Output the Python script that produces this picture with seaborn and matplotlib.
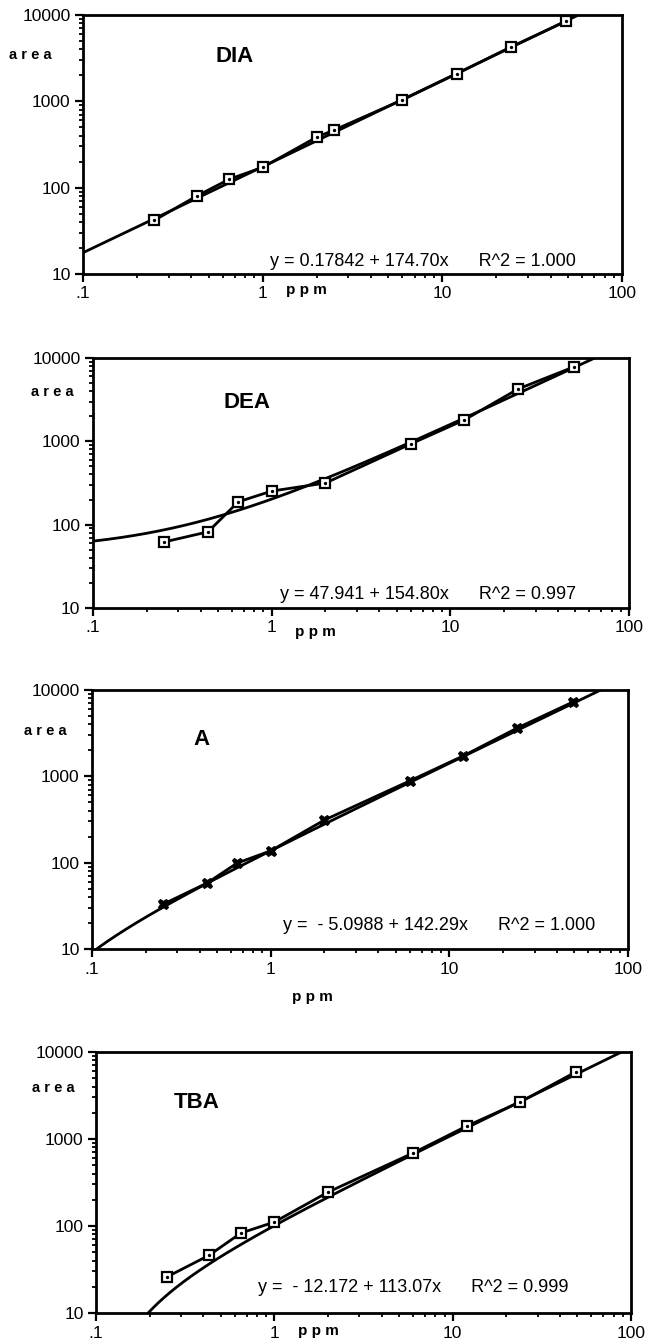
import numpy as np
import pandas as pd
import matplotlib
matplotlib.use("Agg")
import matplotlib.pyplot as plt
import seaborn as sns

sns.set_style("ticks")
plt.rcParams['font.family'] = ['Liberation Sans', 'DejaVu Sans']
plt.rcParams['text.color'] = 'black'
plt.rcParams['xtick.color'] = 'black'
plt.rcParams['ytick.color'] = 'black'

# ---- data ----
names = ["DIA", "DEA", "A", "TBA"]

dia_x = [0.25, 0.43, 0.65, 1.0, 2.0, 2.5, 6.0, 12.0, 24.0, 49.0]
dia_y = [42, 80, 125, 172, 385, 465, 1040, 2080, 4250, 8500]

dea_x = [0.25, 0.44, 0.65, 1.0, 2.0, 6.0, 12.0, 24.0, 49.0]
dea_y = [62, 82, 188, 253, 316, 930, 1810, 4260, 7800]

a_x = [0.25, 0.44, 0.65, 1.0, 2.0, 6.0, 12.0, 24.0, 49.0]
a_y = [33, 58, 99, 137, 312, 885, 1730, 3630, 7240]

tba_x = [0.25, 0.43, 0.65, 1.0, 2.0, 6.0, 12.0, 24.0, 49.0]
tba_y = [26, 46, 83, 111, 245, 690, 1410, 2670, 5890]

intercepts = [0.17842, 47.941, -5.0988, -12.172]
slopes = [174.70, 154.80, 142.29, 113.07]
eq_texts = ["y = 0.17842 + 174.70x      R^2 = 1.000",
            "y = 47.941 + 154.80x      R^2 = 0.997",
            "y =  - 5.0988 + 142.29x      R^2 = 1.000",
            "y =  - 12.172 + 113.07x      R^2 = 0.999"]

x_ticks = [0.1, 1, 10, 100]
x_ticklabels = [".1", "1", "10", "100"]
y_ticks = [10, 100, 1000, 10000]
y_ticklabels = ["10", "100", "1000", "10000"]

xs = [dia_x, dea_x, a_x, tba_x]
ys = [dia_y, dea_y, a_y, tba_y]
markers = ["s", "s", "X", "s"]

# ---- layout (pixels) ----
W, H = 649, 1344
boxes = [(83, 15, 622, 274), (93, 358, 629, 608), (92, 690, 628, 949), (96, 1052, 631, 1313)]
title_pos = [(0.282, 0.838), (0.287, 0.82), (0.205, 0.807), (0.189, 0.805)]
eq_left = [270, 280, 283, 258]
eq_y = [262, 595, 925, 1288]
area_pos = [(30, 55), (52, 392), (45, 731), (53, 1088)]
ppm_pos = [(306, 290), (315, 632), (312, 997), (318, 1331)]

fig = plt.figure(figsize=(W / 100, H / 100), dpi=100)
fig.patch.set_facecolor("white")

for i in range(4):
    l, t, r, b = boxes[i]
    ax = fig.add_axes([l / W, 1 - b / H, (r - l) / W, (b - t) / H])
    ax.set_xscale("log")
    ax.set_yscale("log")

    grid = np.geomspace(0.1, 100, 600)
    fit = intercepts[i] + slopes[i] * grid
    fdf = pd.DataFrame({"x": grid, "y": np.where(fit > 0, fit, np.nan)})
    sns.lineplot(data=fdf, x="x", y="y", ax=ax, color="black", lw=2.0,
                 estimator=None, sort=False)

    df = pd.DataFrame({"x": xs[i], "y": ys[i]})
    if markers[i] == "X":
        sns.lineplot(data=df, x="x", y="y", ax=ax, color="black", lw=2.0,
                     marker="X", markersize=7.5, markerfacecolor="black",
                     markeredgecolor="black", estimator=None, sort=False)
    else:
        sns.lineplot(data=df, x="x", y="y", ax=ax, color="black", lw=2.0,
                     marker="s", markersize=6.5, markerfacecolor="white",
                     markeredgecolor="black", markeredgewidth=1.6,
                     estimator=None, sort=False)
        ax.scatter(xs[i], ys[i], s=2, color="black", zorder=5)

    ax.set_xlim(0.1, 100)
    ax.set_ylim(10, 10000)
    ax.set_xticks(x_ticks)
    ax.set_xticklabels(x_ticklabels)
    ax.set_yticks(y_ticks)
    ax.set_yticklabels(y_ticklabels)
    ax.set_xlabel("")
    ax.set_ylabel("")
    for s in ax.spines.values():
        s.set_visible(True)
        s.set_linewidth(2.0)
        s.set_color("black")
    ax.tick_params(which="major", direction="out", length=6, width=1.6,
                   labelsize=12.5, colors="black", pad=3)
    ax.tick_params(which="minor", direction="out", length=3, width=1.3)
    ax.tick_params(axis="both", which="both", top=False, right=False)

    ax.text(title_pos[i][0], title_pos[i][1], names[i], transform=ax.transAxes,
            fontsize=16, fontweight="bold", ha="center", va="center", color="black")
    ax.text((eq_left[i] - l) / (r - l), 1 - (eq_y[i] - t) / (b - t), eq_texts[i],
            transform=ax.transAxes, fontsize=13, ha="left", va="center", color="black")

    fig.text(area_pos[i][0] / W, 1 - area_pos[i][1] / H, "a r e a",
             fontsize=10.5, fontweight="bold", ha="center", va="center", color="black")
    fig.text(ppm_pos[i][0] / W, 1 - ppm_pos[i][1] / H, "p p m",
             fontsize=11, fontweight="bold", ha="center", va="center", color="black")

fig.savefig("out.png", dpi=100, facecolor="white")
